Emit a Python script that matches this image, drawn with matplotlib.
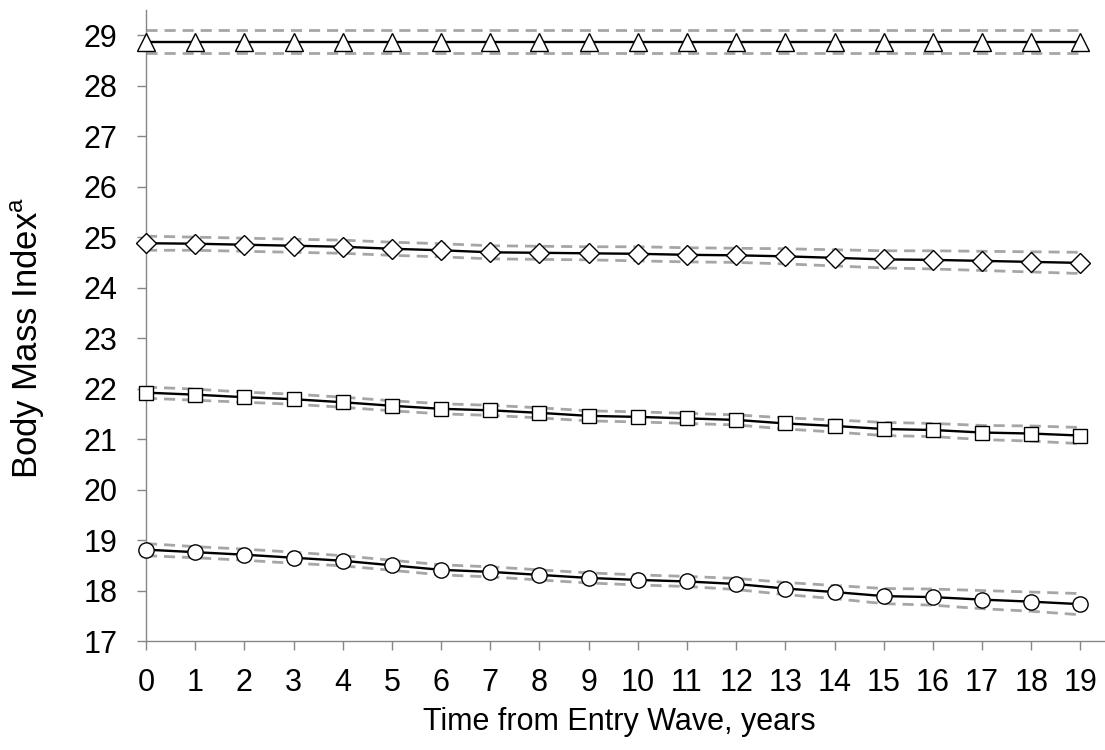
import matplotlib
matplotlib.use("Agg")
import matplotlib.pyplot as plt
import numpy as np

plt.rcParams["font.family"] = ["Liberation Sans", "DejaVu Sans"]

years = list(range(20))

# estimated BMI trajectories
bmi_circle = [18.81, 18.76, 18.71, 18.65, 18.59, 18.50, 18.41, 18.37, 18.31, 18.25,
              18.21, 18.18, 18.13, 18.04, 17.97, 17.89, 17.87, 17.82, 17.78, 17.73]
ci_circle = [0.12, 0.11, 0.11, 0.11, 0.10, 0.10, 0.10, 0.10, 0.10, 0.10,
             0.10, 0.10, 0.11, 0.12, 0.13, 0.15, 0.16, 0.18, 0.19, 0.21]

bmi_square = [21.92, 21.88, 21.83, 21.79, 21.73, 21.66, 21.60, 21.57, 21.52, 21.46,
              21.44, 21.41, 21.38, 21.31, 21.26, 21.20, 21.18, 21.13, 21.11, 21.07]
ci_square = [0.11, 0.11, 0.10, 0.10, 0.10, 0.10, 0.10, 0.10, 0.10, 0.10,
             0.10, 0.10, 0.10, 0.11, 0.12, 0.13, 0.13, 0.14, 0.15, 0.16]

bmi_diamond = [24.88, 24.87, 24.85, 24.83, 24.81, 24.77, 24.74, 24.70, 24.69, 24.68,
               24.67, 24.65, 24.64, 24.62, 24.59, 24.56, 24.55, 24.53, 24.51, 24.49]
ci_diamond = [0.14, 0.13, 0.13, 0.13, 0.13, 0.13, 0.13, 0.13, 0.13, 0.13,
              0.14, 0.14, 0.14, 0.15, 0.16, 0.17, 0.18, 0.19, 0.20, 0.21]

bmi_triangle = [28.87] * 20
ci_triangle = [0.23] * 20

series = [
    (bmi_triangle, ci_triangle, "^", 13.5),
    (bmi_diamond, ci_diamond, "D", 10),
    (bmi_square, ci_square, "s", 10),
    (bmi_circle, ci_circle, "o", 11),
]

fig = plt.figure(figsize=(11.05, 7.5), dpi=100)
ax = fig.add_axes([0.1321, 0.1453, 0.8679, 0.8414])

for vals, ci, mk, ms in series:
    v = np.array(vals)
    c = np.array(ci)
    for band in (v + c, v - c):
        ax.plot(years, band, color="#a6a6a6", lw=2.0, ls=(0, (4, 2.5)), zorder=1)
    ax.plot(years, v, color="black", lw=1.7, marker=mk, ms=ms,
            mfc="white", mec="black", mew=1.0, zorder=3, clip_on=False)

ax.set_xlim(0, 19.5)
ax.set_ylim(17, 29.5)
ax.set_xticks(years)
ax.set_yticks(range(17, 30))
ax.tick_params(axis="both", labelsize=22, length=6.5, width=1.0,
               color="#868686", direction="out")
ax.tick_params(axis="y", pad=14)
ax.tick_params(axis="x", pad=13)

for side in ("top", "right"):
    ax.spines[side].set_visible(False)
for side in ("left", "bottom"):
    ax.spines[side].set_color("#868686")
    ax.spines[side].set_linewidth(1.0)

ax.set_xlabel("Time from Entry Wave, years", fontsize=22)
ax.set_ylabel("Body Mass Index$^{\\mathregular{a}}$", fontsize=25)
ax.xaxis.set_label_coords(0.494, -0.104)
ax.yaxis.set_label_coords(-0.103, 0.48)

fig.savefig("out.png", dpi=100)
